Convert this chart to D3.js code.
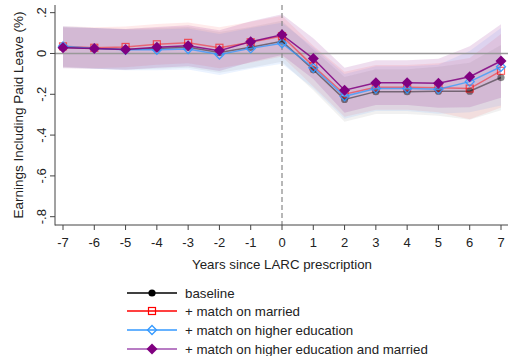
<!DOCTYPE html>
<html><head><meta charset="utf-8">
<script src="https://cdn.jsdelivr.net/npm/d3@7"></script>
<style>body{margin:0;background:#fff}svg{display:block;font-family:"Liberation Sans",Arial,sans-serif}</style>
</head><body><svg id="c" width="508" height="356"></svg>
<script>
const years = [-7,-6,-5,-4,-3,-2,-1,0,1,2,3,4,5,6,7];
const yTicks = [0.2,0,-0.2,-0.4,-0.6,-0.8];
const yTickLabels = [".2","0","-.2","-.4","-.6","-.8"];
const seriesNames = ["baseline","+ match on married","+ match on higher education","+ match on higher education and married"];
const baseline   = [0.030,0.025,0.020,0.025,0.030,0.005,0.030,0.060,-0.080,-0.225,-0.187,-0.187,-0.185,-0.185,-0.118];
const married    = [0.035,0.028,0.032,0.045,0.052,0.028,0.055,0.085,-0.062,-0.200,-0.166,-0.166,-0.168,-0.172,-0.085];
const education  = [0.035,0.025,0.018,0.018,0.022,-0.005,0.025,0.050,-0.070,-0.210,-0.172,-0.172,-0.175,-0.138,-0.065];
const eduMarried = [0.028,0.025,0.020,0.030,0.038,0.014,0.058,0.092,-0.025,-0.180,-0.143,-0.143,-0.146,-0.114,-0.037];
const ciBaseline   = [0.10,0.10,0.10,0.10,0.10,0.10,0.10,0.10,0.10,0.11,0.11,0.11,0.12,0.14,0.16];
const ciMarried    = [0.10,0.10,0.10,0.10,0.10,0.10,0.10,0.10,0.10,0.11,0.11,0.11,0.12,0.15,0.18];
const ciEducation  = [0.10,0.10,0.10,0.10,0.10,0.10,0.10,0.10,0.10,0.11,0.11,0.11,0.12,0.15,0.19];
const ciEduMarried = [0.10,0.10,0.10,0.10,0.10,0.10,0.10,0.10,0.10,0.11,0.11,0.11,0.12,0.15,0.18];

const svg = d3.select("#c");
const x = d3.scaleLinear().domain([-7,7]).range([63,501]);
const y = d3.scaleLinear().domain([-0.8407,0.2376]).range([225,5]);

const series = [
  {name:seriesNames[0], v:baseline, ci:ciBaseline, line:"#000", lop:0.45, band:"rgba(120,120,120,0.10)", marker:"circle", fill:"#000", stroke:"#000", legLine:"#000"},
  {name:seriesNames[1], v:married, ci:ciMarried, line:"#ff0000", lop:0.45, band:"rgba(255,60,60,0.10)", marker:"square", fill:"none", stroke:"#ff0000", legLine:"#ff0000"},
  {name:seriesNames[2], v:education, ci:ciEducation, line:"#3399ff", lop:0.75, band:"rgba(60,140,255,0.10)", marker:"diamond", fill:"none", stroke:"#3399ff", legLine:"#3399ff"},
  {name:seriesNames[3], v:eduMarried, ci:ciEduMarried, line:"#800080", lop:0.85, band:"rgba(128,0,128,0.13)", marker:"diamondFill", fill:"#800080", stroke:"#800080", legLine:"#a050b0"}
];

series.forEach(s=>{
  const area = d3.area().x((d,i)=>x(years[i])).y0((d,i)=>y(d - s.ci[i])).y1((d,i)=>y(d + s.ci[i]));
  svg.append("path").attr("d", area(s.v)).attr("fill", s.band);
});

svg.append("line").attr("x1",55).attr("x2",508).attr("y1",y(0)).attr("y2",y(0)).attr("stroke","#999").attr("stroke-width",1.5);
svg.append("line").attr("x1",x(0)).attr("x2",x(0)).attr("y1",5).attr("y2",225).attr("stroke","#888").attr("stroke-width",1.2).attr("stroke-dasharray","5,3");

function marker(g, type, cx, cy, fill, stroke, opac){
  if(type==="circle") g.append("circle").attr("cx",cx).attr("cy",cy).attr("r",3.6).attr("fill",fill).attr("opacity",opac);
  else if(type==="square") g.append("rect").attr("x",cx-3.5).attr("y",cy-3.5).attr("width",7).attr("height",7).attr("fill","none").attr("stroke",stroke).attr("stroke-width",1.2).attr("opacity",opac);
  else if(type==="diamond") g.append("path").attr("d",`M${cx},${cy-4.5}L${cx+4.5},${cy}L${cx},${cy+4.5}L${cx-4.5},${cy}Z`).attr("fill","none").attr("stroke",stroke).attr("stroke-width",1.3).attr("opacity",opac);
  else g.append("path").attr("d",`M${cx},${cy-5.5}L${cx+5.5},${cy}L${cx},${cy+5.5}L${cx-5.5},${cy}Z`).attr("fill",fill).attr("opacity",opac);
}

series.forEach(s=>{
  const line = d3.line().x((d,i)=>x(years[i])).y(d=>y(d));
  svg.append("path").attr("d", line(s.v)).attr("fill","none").attr("stroke",s.line).attr("stroke-width",1.5).attr("opacity",s.lop);
  const g = svg.append("g");
  s.v.forEach((d,i)=>marker(g, s.marker, x(years[i]), y(d), s.fill, s.stroke, s.marker==="circle"?0.45:(s.marker==="square"?0.6:(s.marker==="diamond"?0.9:1))));
});

const ax = svg.append("g").attr("fill","none").attr("stroke","#444").attr("stroke-width",1);
ax.append("line").attr("x1",55).attr("x2",55).attr("y1",5).attr("y2",225.5);
ax.append("line").attr("x1",55).attr("x2",508).attr("y1",225).attr("y2",225);
yTicks.forEach((t,i)=>{
  ax.append("line").attr("x1",50).attr("x2",55).attr("y1",y(t)).attr("y2",y(t));
  svg.append("text").attr("transform",`translate(45.5,${y(t)}) rotate(-90)`).attr("text-anchor","middle").attr("font-size",13).attr("fill","#222").text(yTickLabels[i]);
});
years.forEach(t=>{
  ax.append("line").attr("x1",x(t)).attr("x2",x(t)).attr("y1",225).attr("y2",230);
  svg.append("text").attr("x",x(t)).attr("y",247).attr("text-anchor","middle").attr("font-size",13).attr("fill","#222").text(t);
});
svg.append("text").attr("x",282).attr("y",269).attr("text-anchor","middle").attr("font-size",13.3).attr("fill","#222").text("Years since LARC prescription");
svg.append("text").attr("transform","translate(23,115) rotate(-90)").attr("text-anchor","middle").attr("font-size",13.5).attr("fill","#222").text("Earnings Including Paid Leave (%)");

const legY = [293,311,330,349];
series.forEach((s,i)=>{
  svg.append("line").attr("x1",127).attr("x2",177).attr("y1",legY[i]).attr("y2",legY[i]).attr("stroke",s.legLine).attr("stroke-width",1.5);
  const g = svg.append("g");
  marker(g, s.marker, 152, legY[i], s.fill, s.stroke, 1);
  svg.append("text").attr("x",185).attr("y",legY[i]+4.5).attr("font-size",13.3).attr("fill","#222").text(s.name);
});
</script></body></html>
